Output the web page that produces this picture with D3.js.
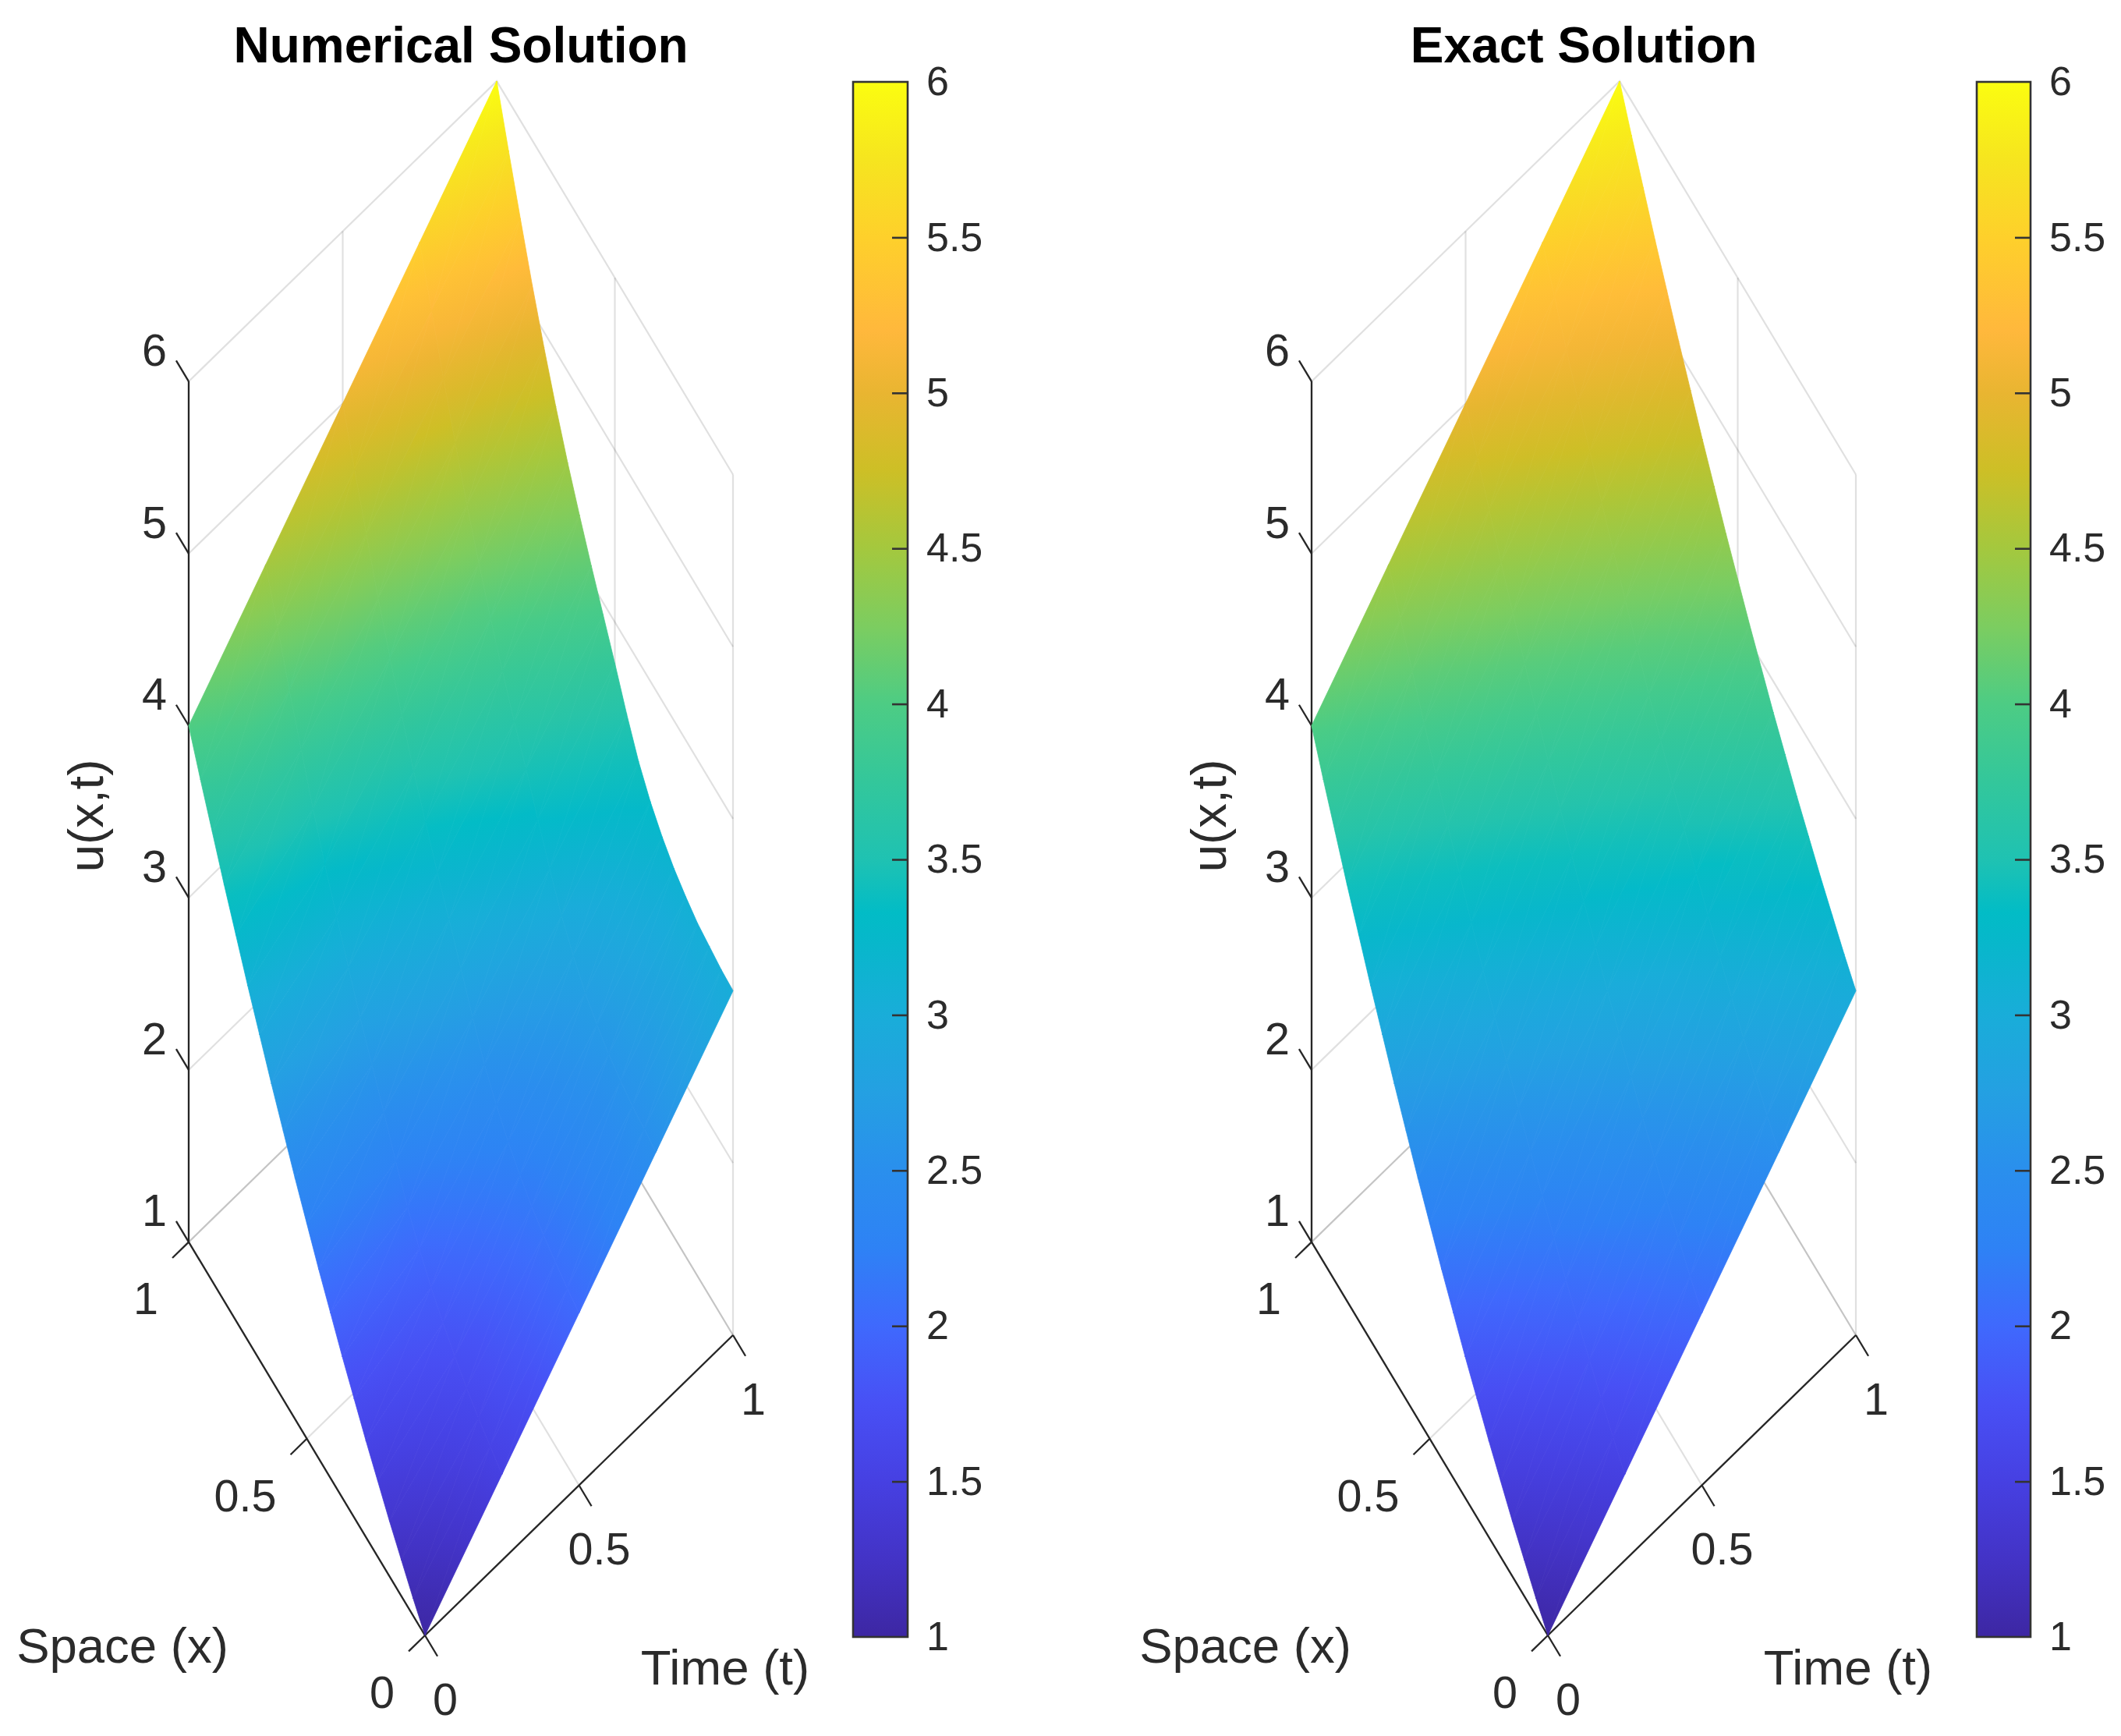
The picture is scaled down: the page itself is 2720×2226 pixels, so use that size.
<!DOCTYPE html>
<html>
<head>
<meta charset="utf-8">
<style>
  html, body { margin: 0; padding: 0; background: #fff; }
  text { font-family: "Liberation Sans", Arial, sans-serif; fill: #2b2b2b; }
</style>
</head>
<body>
<svg></svg>
<script src="https://cdn.jsdelivr.net/npm/d3@7"></script>
<script>
// values
const xGrid = [0, 0.05, 0.1, 0.15, 0.2, 0.25, 0.3, 0.35, 0.4, 0.45, 0.5, 0.55, 0.6, 0.65, 0.7, 0.75, 0.8, 0.85, 0.9, 0.95, 1];
const tGrid = [0, 0.25, 0.5, 0.75, 1];

// rows follow tGrid, columns follow xGrid
const uNumerical = [
  [1.00, 1.10, 1.21, 1.32, 1.44, 1.56, 1.69, 1.82, 1.96, 2.10, 2.25, 2.40, 2.56, 2.72, 2.89, 3.06, 3.24, 3.42, 3.61, 3.80, 4.00],
  [1.50, 1.55, 1.60, 1.66, 1.73, 1.81, 1.90, 2.01, 2.14, 2.29, 2.46, 2.62, 2.78, 2.96, 3.14, 3.33, 3.54, 3.77, 4.00, 4.25, 4.50],
  [2.00, 2.03, 2.07, 2.11, 2.16, 2.23, 2.31, 2.41, 2.53, 2.69, 2.86, 3.03, 3.19, 3.37, 3.55, 3.76, 3.98, 4.21, 4.47, 4.73, 5.00],
  [2.50, 2.52, 2.54, 2.57, 2.61, 2.67, 2.74, 2.84, 2.96, 3.12, 3.29, 3.47, 3.63, 3.81, 4.00, 4.21, 4.43, 4.68, 4.94, 5.22, 5.50],
  [3.00, 3.01, 3.03, 3.05, 3.09, 3.14, 3.21, 3.30, 3.42, 3.58, 3.76, 3.93, 4.10, 4.28, 4.47, 4.68, 4.91, 5.16, 5.43, 5.71, 6.00],
];
const uExact = [
  [1.00, 1.10, 1.21, 1.32, 1.44, 1.56, 1.69, 1.82, 1.96, 2.10, 2.25, 2.40, 2.56, 2.72, 2.89, 3.06, 3.24, 3.42, 3.61, 3.80, 4.00],
  [1.50, 1.60, 1.71, 1.82, 1.94, 2.06, 2.19, 2.32, 2.46, 2.60, 2.75, 2.90, 3.06, 3.22, 3.39, 3.56, 3.74, 3.92, 4.11, 4.30, 4.50],
  [2.00, 2.10, 2.21, 2.32, 2.44, 2.56, 2.69, 2.82, 2.96, 3.10, 3.25, 3.40, 3.56, 3.72, 3.89, 4.06, 4.24, 4.42, 4.61, 4.80, 5.00],
  [2.50, 2.60, 2.71, 2.82, 2.94, 3.06, 3.19, 3.32, 3.46, 3.60, 3.75, 3.90, 4.06, 4.22, 4.39, 4.56, 4.74, 4.92, 5.11, 5.30, 5.50],
  [3.00, 3.10, 3.21, 3.32, 3.44, 3.56, 3.69, 3.82, 3.96, 4.10, 4.25, 4.40, 4.56, 4.72, 4.89, 5.06, 5.24, 5.42, 5.61, 5.80, 6.00],
];

const xTicks = [0, 0.5, 1];
const tTicks = [0, 0.5, 1];
const uTicks = [1, 2, 3, 4, 5, 6];
const colorbarTicks = [1.5, 2, 2.5, 3, 3.5, 4, 4.5, 5, 5.5];
const colorbarEnds = [1, 6];

const colorValues = [1, 1.25, 1.5, 1.75, 2, 2.25, 2.5, 2.75, 3, 3.25, 3.33, 3.5, 3.75, 4, 4.25, 4.5, 4.75, 5, 5.2, 5.5, 5.75, 6];
const colorHex = ["#3d27a3", "#4333c6", "#4640e2", "#4850f5", "#3f69fd", "#2e82f5", "#2a8fed", "#24a0e2", "#19add9", "#06b8ca", "#02bcc6", "#1fc2b2", "#33c79b", "#4dcc84", "#7ccd60", "#a4c83e", "#cdbf26", "#e9b531", "#ffb83c", "#fed02b", "#f6e51f", "#fbfd10"];

const svg = d3.select("svg").attr("width", 2720).attr("height", 2226).style("display", "block");

const color = d3.scaleLinear().domain(colorValues).range(colorHex);

// oblique view of the box: each variable moves a point along its own screen direction
const originX = 545;
const originY = 2097;
const xToDx = d3.scaleLinear().domain([0, 1]).range([0, -303]);
const xToDy = d3.scaleLinear().domain([0, 1]).range([0, -504.4]);
const tToDx = d3.scaleLinear().domain([0, 1]).range([0, 395]);
const tToDy = d3.scaleLinear().domain([0, 1]).range([0, -385]);
const uToDy = d3.scaleLinear().domain([1, 6]).range([0, -1103.5]);

const project = (x, t, u) => [
  originX + xToDx(x) + tToDx(t),
  originY + xToDy(x) + tToDy(t) + uToDy(u),
];
const line = d3.line();

function triangles(values) {
  const tris = [];
  tGrid.slice(0, -1).forEach((t, i) => {
    xGrid.slice(0, -1).forEach((x, j) => {
      const a = { p: project(x, t, values[i][j]), u: values[i][j] };
      const b = { p: project(xGrid[j + 1], t, values[i][j + 1]), u: values[i][j + 1] };
      const c = { p: project(xGrid[j + 1], tGrid[i + 1], values[i + 1][j + 1]), u: values[i + 1][j + 1] };
      const d = { p: project(x, tGrid[i + 1], values[i + 1][j]), u: values[i + 1][j] };
      tris.push([a, b, c], [a, c, d]);
    });
  });
  return tris;
}

// u is linear over a triangle, so a gradient along its steepest direction shades it exactly
function gradientLine(tri) {
  const [a, b, c] = tri;
  const x1 = b.p[0] - a.p[0], y1 = b.p[1] - a.p[1], du1 = b.u - a.u;
  const x2 = c.p[0] - a.p[0], y2 = c.p[1] - a.p[1], du2 = c.u - a.u;
  const det = x1 * y2 - x2 * y1;
  const gx = (du1 * y2 - du2 * y1) / det;
  const gy = (x1 * du2 - x2 * du1) / det;
  const low = d3.least(tri, (v) => v.u);
  const high = d3.max(tri, (v) => v.u);
  const k = (high - low.u) / (gx * gx + gy * gy);
  return { x1: low.p[0], y1: low.p[1], x2: low.p[0] + gx * k, y2: low.p[1] + gy * k, from: low.u, to: high };
}

function drawPanel(id, offset, title, values, barLeft) {
  const g = svg.append("g").attr("transform", `translate(${offset},0)`);
  const defs = g.append("defs");

  // grid on the back walls and floor
  const gridLines = [];
  uTicks.forEach((u) => {
    gridLines.push([project(1, 0, u), project(1, 1, u), project(0, 1, u)]);
  });
  xTicks.forEach((x) => {
    gridLines.push([project(x, 1, 1), project(x, 1, 6)]);
    gridLines.push([project(x, 0, 1), project(x, 1, 1)]);
  });
  tTicks.forEach((t) => {
    gridLines.push([project(1, t, 1), project(1, t, 6)]);
    gridLines.push([project(0, t, 1), project(1, t, 1)]);
  });
  g.append("g")
    .selectAll("path")
    .data(gridLines)
    .join("path")
    .attr("d", (d) => line(d))
    .attr("fill", "none")
    .attr("stroke", "#000")
    .attr("stroke-opacity", 0.12)
    .attr("stroke-width", 2.2);

  // axes
  const axisLines = [
    [project(1, 0, 1), project(1, 0, 6)],
    [project(0, 0, 1), project(1, 0, 1)],
    [project(0, 0, 1), project(0, 1, 1)],
  ];
  uTicks.forEach((u) => axisLines.push([project(1, 0, u), project(1.053, 0, u)]));
  xTicks.forEach((x) => axisLines.push([project(x, 0, 1), project(x, -0.053, 1)]));
  tTicks.forEach((t) => axisLines.push([project(0, t, 1), project(-0.053, t, 1)]));
  g.append("g")
    .selectAll("path")
    .data(axisLines)
    .join("path")
    .attr("d", (d) => line(d))
    .attr("fill", "none")
    .attr("stroke", "#262626")
    .attr("stroke-width", 2.3);

  // surface
  const tris = triangles(values);
  const surface = g.append("g");
  tris.forEach((tri, i) => {
    const gl = gradientLine(tri);
    const grad = defs.append("linearGradient")
      .attr("id", `${id}-tri-${i}`)
      .attr("gradientUnits", "userSpaceOnUse")
      .attr("x1", gl.x1).attr("y1", gl.y1)
      .attr("x2", gl.x2).attr("y2", gl.y2);
    d3.range(0, 1.001, 0.25).forEach((f) => {
      grad.append("stop")
        .attr("offset", f)
        .attr("stop-color", color(gl.from + (gl.to - gl.from) * f));
    });
    surface.append("path")
      .attr("d", line(tri.map((v) => v.p)) + "Z")
      .attr("fill", `url(#${id}-tri-${i})`)
      .attr("stroke", `url(#${id}-tri-${i})`)
      .attr("stroke-width", 0.8)
      .attr("stroke-linejoin", "round");
  });

  // tick labels
  const labels = g.append("g").attr("font-size", 57.5);
  labels.selectAll(".u-label")
    .data(uTicks)
    .join("text")
    .attr("class", "u-label")
    .attr("x", (d) => project(1, 0, d)[0] - 44)
    .attr("y", (d) => project(1, 0, d)[1] - 41)
    .attr("dy", "0.36em")
    .attr("text-anchor", "middle")
    .text((d) => d);
  labels.selectAll(".x-label")
    .data(xTicks)
    .join("text")
    .attr("class", "x-label")
    .attr("x", (d) => project(d, 0, 1)[0] - 39)
    .attr("y", (d) => project(d, 0, 1)[1] + 72)
    .attr("dy", "0.36em")
    .attr("text-anchor", "end")
    .text((d) => d);
  labels.selectAll(".t-label")
    .data(tTicks)
    .join("text")
    .attr("class", "t-label")
    .attr("x", (d) => project(0, d, 1)[0] + 26)
    .attr("y", (d) => project(0, d, 1)[1] + 81)
    .attr("dy", "0.36em")
    .attr("text-anchor", "middle")
    .text((d) => d);

  // titles
  g.append("text")
    .attr("x", 591).attr("y", 80)
    .attr("text-anchor", "middle")
    .attr("font-size", 64)
    .attr("font-weight", "bold")
    .style("fill", "#000")
    .text(title);
  g.append("text")
    .attr("x", 157).attr("y", 2132)
    .attr("text-anchor", "middle")
    .attr("font-size", 63.5)
    .text("Space (x)");
  g.append("text")
    .attr("x", 930).attr("y", 2160)
    .attr("text-anchor", "middle")
    .attr("font-size", 63.5)
    .text("Time (t)");
  g.append("text")
    .attr("transform", "translate(132,1046) rotate(-90)")
    .attr("text-anchor", "middle")
    .attr("font-size", 63.5)
    .text("u(x,t)");

  // colorbar
  const barScale = d3.scaleLinear().domain([1, 6]).range([2099, 105]);
  const barGrad = defs.append("linearGradient")
    .attr("id", `${id}-bar`)
    .attr("gradientUnits", "userSpaceOnUse")
    .attr("x1", 0).attr("x2", 0)
    .attr("y1", barScale(1)).attr("y2", barScale(6));
  colorValues.forEach((v, i) => {
    barGrad.append("stop")
      .attr("offset", (v - 1) / 5)
      .attr("stop-color", colorHex[i]);
  });
  g.append("rect")
    .attr("x", barLeft).attr("y", 105)
    .attr("width", 1164 - barLeft).attr("height", 1994)
    .attr("fill", `url(#${id}-bar)`)
    .attr("stroke", "#333")
    .attr("stroke-width", 2.6);
  const barAxis = d3.axisRight(barScale)
    .tickValues(colorbarEnds.concat(colorbarTicks))
    .tickSize(-20)
    .tickPadding(24)
    .tickFormat((d) => d);
  const barG = g.append("g")
    .attr("transform", "translate(1164,0)")
    .call(barAxis);
  barG.select(".domain").remove();
  barG.attr("font-family", null).attr("font-size", 52);
  barG.selectAll("line").attr("stroke", "#333").attr("stroke-width", 2.6);
  // the end values sit on the frame, so only their labels show
  barG.selectAll(".tick").filter((d) => colorbarEnds.includes(d)).select("line").remove();
}

drawPanel("numerical", 0, "Numerical Solution", uNumerical, 1094);
drawPanel("exact", 1440, "Exact Solution", uExact, 1095);
</script>
</body>
</html>
